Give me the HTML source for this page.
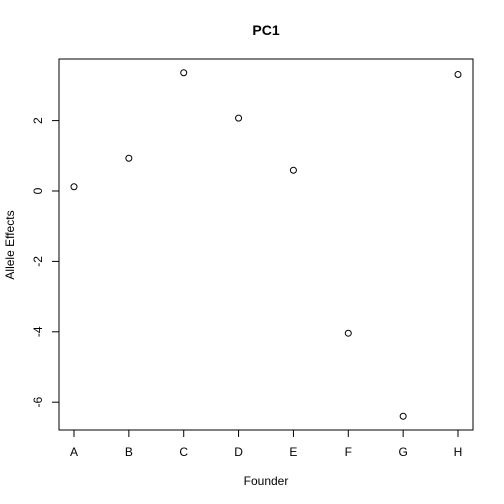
<!DOCTYPE html>
<html><head><meta charset="utf-8"><style>body{margin:0;background:#fff}svg{display:block;font-family:"Liberation Sans",sans-serif}</style></head>
<body>
<svg id="chart" width="504" height="504">
<text x="266" y="35" text-anchor="middle" font-weight="bold" font-size="14">PC1</text>
<rect x="59" y="59" width="414" height="371" fill="none" stroke="#000"/>
<text x="266" y="485" text-anchor="middle" font-size="12">Founder</text>
<text transform="translate(14,245) rotate(-90)" text-anchor="middle" font-size="12">Allele Effects</text>
<g id="axes"></g><g id="pts"></g>
</svg>
<script>
const categories=["A","B","C","D","E","F","G","H"];
const values=[0.12,0.93,3.36,2.07,0.59,-4.04,-6.4,3.31];
const yTicks=[-6,-4,-2,0,2];
const NS="http://www.w3.org/2000/svg";
function xs(i){return 74+i*(458-74)/(categories.length-1);}
function ys(v){return 191-35.2*v;}
function mk(t,a,p){const e=document.createElementNS(NS,t);for(const k in a)e.setAttribute(k,a[k]);p.appendChild(e);return e;}
const ax=document.getElementById('axes'),pts=document.getElementById('pts');
categories.forEach((c,i)=>{
 const l=mk('line',{x1:xs(i),x2:xs(i),y1:430,y2:437,stroke:'#000'},ax);
 
 
 const t=mk('text',{x:xs(i),y:456,'text-anchor':'middle','font-size':12},ax);t.textContent=c;
 
 
});
mk('line',{x1:xs(0),x2:xs(categories.length-1),y1:430,y2:430,stroke:'#000'},ax);
yTicks.forEach(v=>{
 const l=mk('line',{x1:52,x2:59,y1:ys(v),y2:ys(v),stroke:'#000'},ax);
 
 
 const t=mk('text',{transform:`translate(42,${ys(v)}) rotate(-90)`,'text-anchor':'middle','font-size':12},ax);t.textContent=v;
 
 
});
values.forEach((v,i)=>{
 const c=mk('circle',{cx:xs(i),cy:ys(v),r:3,fill:'none',stroke:'#000'},pts);
 
 
});
</script>
</body></html>
